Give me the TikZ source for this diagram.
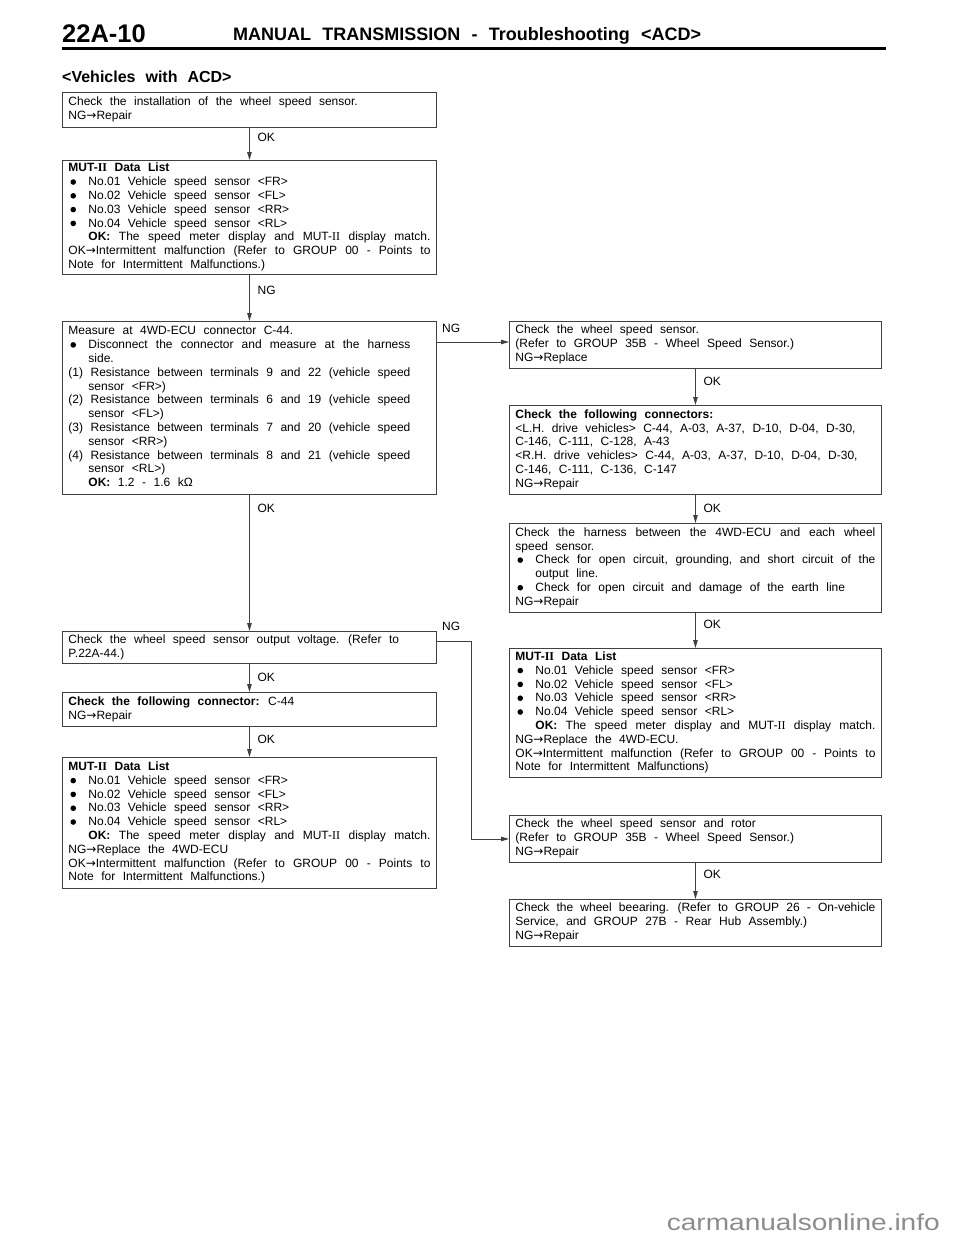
\documentclass[tikz,border=0pt]{standalone}
\usepackage{fontspec}
\setmainfont{Liberation Sans}[WordSpace=2.25]
\newfontfamily\rn{Liberation Serif}
\newfontfamily\dv{DejaVu Sans}
\usetikzlibrary{arrows.meta}
\newcommand\bodyfont{\fontsize{12}{13.8}\selectfont}
\newcommand\bul{\makebox[20pt][l]{\hspace{2pt}\raisebox{0.9pt}{\tikz\fill (0,0) circle (2.8pt);}}}
\newcommand\ind{\hspace*{20pt}}
\newcommand\J[2]{\makebox[#1pt][s]{#2}}
\newcommand\MUT{MUT-{\rn II}}
\newcommand\ar{{\dv →}}
\newcommand\resetsp{\spaceskip=0pt\relax\xspaceskip=0pt\relax}
\newcommand\boxbegin{\resetsp\noindent\strut}
\begin{document}
\begin{tikzpicture}[x=1pt,y=-1pt,
  box/.style={draw=black!75, line width=0.9pt, anchor=north west, inner xsep=6pt, inner ysep=0pt,
    align=left, font=\bodyfont, execute at begin node=\boxbegin, execute at end node=\strut},
  lbox/.style={box, text width=362pt},
  rbox/.style={box, text width=360pt},
  conn/.style={draw=black!75, line width=0.9pt, -{Triangle[length=8pt,width=4.5pt]}},
  lab/.style={anchor=west, inner sep=0pt, font=\bodyfont}]
\useasboundingbox (0,0) rectangle (960,1242);

% header
\node[anchor=base west, inner sep=0pt, font=\fontsize{25.5}{28}\selectfont\bfseries] (pg) at (62,42) {22A-10};
\node[anchor=base west, inner sep=0pt, font=\fontsize{18}{20}\selectfont\bfseries] (ttl) at (233,40) {MANUAL TRANSMISSION - Troubleshooting <ACD>};
\draw[line width=3pt] (62,48.5) -- (886,48.5);
\node[anchor=base west, inner sep=0pt, font=\fontsize{16}{18}\selectfont\bfseries] (veh) at (62,82) {<Vehicles with ACD>};

% left column
\node[lbox, minimum height=35pt] (b1) at (62,92) {Check the installation of the wheel speed sensor.\\NG\ar Repair};

\node[lbox, minimum height=114pt] (b2) at (62,160) {\textbf{\MUT\ Data List}\\
\bul No.01 Vehicle speed sensor <FR>\\
\bul No.02 Vehicle speed sensor <FL>\\
\bul No.03 Vehicle speed sensor <RR>\\
\bul No.04 Vehicle speed sensor <RL>\\
\ind\J{342}{\textbf{OK:} The speed meter display and \MUT\ display match.}\\
\J{362}{OK\ar Intermittent malfunction (Refer to GROUP 00 - Points to}\\
Note for Intermittent Malfunctions.)};

\node[lbox, minimum height=173pt] (b3) at (62,321) {Measure at 4WD-ECU connector C-44.\\
\bul\J{322}{Disconnect the connector and measure at the harness}\\
\ind side.\\
\J{342}{(1) Resistance between terminals 9 and 22 (vehicle speed}\\
\ind sensor <FR>)\\
\J{342}{(2) Resistance between terminals 6 and 19 (vehicle speed}\\
\ind sensor <FL>)\\
\J{342}{(3) Resistance between terminals 7 and 20 (vehicle speed}\\
\ind sensor <RR>)\\
\J{342}{(4) Resistance between terminals 8 and 21 (vehicle speed}\\
\ind sensor <RL>)\\
\ind\textbf{OK:} 1.2 - 1.6 kΩ};

\node[lbox, minimum height=32pt] (b8) at (62,631) {Check the wheel speed sensor output voltage. (Refer to\\P.22A-44.)};

\node[lbox, minimum height=34pt] (b11) at (62,692) {\textbf{Check the following connector:} C-44\\NG\ar Repair};

\node[lbox, minimum height=131pt] (b12) at (62,757) {\textbf{\MUT\ Data List}\\
\bul No.01 Vehicle speed sensor <FR>\\
\bul No.02 Vehicle speed sensor <FL>\\
\bul No.03 Vehicle speed sensor <RR>\\
\bul No.04 Vehicle speed sensor <RL>\\
\ind\J{342}{\textbf{OK:} The speed meter display and \MUT\ display match.}\\
NG\ar Replace the 4WD-ECU\\
\J{362}{OK\ar Intermittent malfunction (Refer to GROUP 00 - Points to}\\
Note for Intermittent Malfunctions.)};

% right column
\node[rbox, minimum height=47pt] (b4) at (509,321) {Check the wheel speed sensor.\\
(Refer to GROUP 35B - Wheel Speed Sensor.)\\
NG\ar Replace};

\node[rbox, minimum height=89pt] (b5) at (509,405) {\textbf{Check the following connectors:}\\
<L.H. drive vehicles> C-44, A-03, A-37, D-10, D-04, D-30,\\
C-146, C-111, C-128, A-43\\
<R.H. drive vehicles> C-44, A-03, A-37, D-10, D-04, D-30,\\
C-146, C-111, C-136, C-147\\
NG\ar Repair};

\node[rbox, minimum height=89pt] (b6) at (509,523) {\J{360}{Check the harness between the 4WD-ECU and each wheel}\\
speed sensor.\\
\bul\J{340}{Check for open circuit, grounding, and short circuit of the}\\
\ind output line.\\
\bul Check for open circuit and damage of the earth line\\
NG\ar Repair};

\node[rbox, minimum height=129pt] (b7) at (509,648) {\textbf{\MUT\ Data List}\\
\bul No.01 Vehicle speed sensor <FR>\\
\bul No.02 Vehicle speed sensor <FL>\\
\bul No.03 Vehicle speed sensor <RR>\\
\bul No.04 Vehicle speed sensor <RL>\\
\ind\J{340}{\textbf{OK:} The speed meter display and \MUT\ display match.}\\
NG\ar Replace the 4WD-ECU.\\
\J{360}{OK\ar Intermittent malfunction (Refer to GROUP 00 - Points to}\\
Note for Intermittent Malfunctions)};

\node[rbox, minimum height=47pt] (b9) at (509,815) {Check the wheel speed sensor and rotor\\
(Refer to GROUP 35B - Wheel Speed Sensor.)\\
NG\ar Repair};

\node[rbox, minimum height=47pt] (b10) at (509,899) {\J{360}{Check the wheel beearing. (Refer to GROUP 26 - On-vehicle}\\
Service, and GROUP 27B - Rear Hub Assembly.)\\
NG\ar Repair};

% connectors
\draw[conn] (b1) -- (b2);
\draw[conn] (b2) -- (b3);
\draw[conn] (b3) -- (b8);
\draw[conn] (b8) -- (b11);
\draw[conn] (b11) -- (b12);
\draw[conn] (b4) -- (b5);
\draw[conn] (b5) -- (b6);
\draw[conn] (b6) -- (b7);
\draw[conn] (b9) -- (b10);
\draw[conn] ([yshift=-21pt]b3.north east) -- ([yshift=-21pt]b4.north west);
\draw[conn] ([yshift=-10pt]b8.north east) -- ++(35,0) |- (b9.west);

% labels
\node[lab] (l1) at ([xshift=8pt,yshift=-9pt]b1.south) {OK};
\node[lab] (l2) at ([xshift=8pt,yshift=-15pt]b2.south) {NG};
\node[lab] (l3) at ([xshift=8pt,yshift=-13pt]b3.south) {OK};
\node[lab] (l8) at ([xshift=8pt,yshift=-13pt]b8.south) {OK};
\node[lab] (l11) at ([xshift=8pt,yshift=-12pt]b11.south) {OK};
\node[lab] (l4) at ([xshift=8pt,yshift=-12pt]b4.south) {OK};
\node[lab] (l5) at ([xshift=8pt,yshift=-13pt]b5.south) {OK};
\node[lab] (l6) at ([xshift=8pt,yshift=-11pt]b6.south) {OK};
\node[lab] (l9) at ([xshift=8pt,yshift=-11pt]b9.south) {OK};
\node[lab] (n3) at ([xshift=5pt,yshift=-7pt]b3.north east) {NG};
\node[lab] (n8) at ([xshift=5pt,yshift=5pt]b8.north east) {NG};

% watermark
\node[anchor=base east, inner sep=0pt, text=black!45, font=\fontsize{23}{25}\selectfont] (wm) at (940,1230) {\scalebox{1.22}[1]{carmanualsonline.info}};
\end{tikzpicture}
\end{document}
